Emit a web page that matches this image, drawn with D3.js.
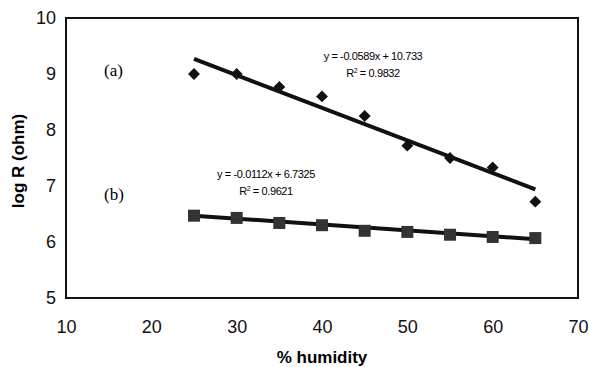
<!DOCTYPE html>
<html>
<head>
<meta charset="utf-8">
<script src="https://cdn.jsdelivr.net/npm/d3@7"></script>
<style>
  body { margin: 0; background: #fff; }
  text { font-family: Arial, "Liberation Sans", sans-serif; }
</style>
</head>
<body>
<div id="chart"></div>
<script>
var width = 589, height = 367;
var margin = {left: 66, right: 11, top: 18, bottom: 69};

// humidity (%) and log R for the two samples
var humidity = [25, 30, 35, 40, 45, 50, 55, 60, 65];
var seriesA = [9.0, 9.0, 8.77, 8.6, 8.25, 7.72, 7.5, 7.33, 6.72];
var seriesB = [6.47, 6.43, 6.34, 6.3, 6.2, 6.18, 6.13, 6.09, 6.07];

// trend line end points as drawn
var trendA = [[25, 9.27], [65, 6.94]];
var trendB = [[25, 6.47], [65, 6.05]];

var xTicks = [10, 20, 30, 40, 50, 60, 70];
var yTicks = [5, 6, 7, 8, 9, 10];

var svg = d3.select("#chart").append("svg")
	.attr("width", width)
	.attr("height", height);

var x = d3.scaleLinear().domain([10, 70]).range([margin.left, width - margin.right]);
var y = d3.scaleLinear().domain([5, 10]).range([height - margin.bottom, margin.top]);

// frame
svg.append("rect")
	.attr("x", x(10)).attr("y", y(10))
	.attr("width", x(70) - x(10)).attr("height", y(5) - y(10))
	.attr("fill", "none").attr("stroke", "#111").attr("stroke-width", 2);

// axes, labels only
var xAxis = svg.append("g")
	.attr("transform", "translate(0," + y(5) + ")")
	.call(d3.axisBottom(x).tickValues(xTicks).tickFormat(d3.format("d")).tickSize(0).tickPadding(22));
var yAxis = svg.append("g")
	.attr("transform", "translate(" + x(10) + ",0)")
	.call(d3.axisLeft(y).tickValues(yTicks).tickFormat(d3.format("d")).tickSize(0).tickPadding(10));
[xAxis, yAxis].forEach(function(g) {
	g.select(".domain").remove();
	g.selectAll("text").attr("font-size", 18).attr("fill", "#111")
		.style("font-family", "Arial, 'Liberation Sans', sans-serif");
});

// axis titles
svg.append("text")
	.attr("x", 322).attr("y", 363)
	.attr("text-anchor", "middle")
	.attr("font-size", 17).attr("font-weight", "bold")
	.text("% humidity");
svg.append("text")
	.attr("transform", "translate(24,161) rotate(-90)")
	.attr("text-anchor", "middle")
	.attr("font-size", 17).attr("font-weight", "bold")
	.text("log R (ohm)");

var line = d3.line()
	.x(function(d) { return x(d[0]); })
	.y(function(d) { return y(d[1]); });

// trend lines
[trendA, trendB].forEach(function(t) {
	svg.append("path")
		.attr("d", line(t))
		.attr("fill", "none")
		.attr("stroke", "#111")
		.attr("stroke-width", 4);
});

// (a) diamonds
svg.selectAll(".ptA")
	.data(humidity).enter()
	.append("path")
	.attr("class", "ptA")
	.attr("d", d3.symbol().type(d3.symbolDiamond2).size(90))
	.attr("transform", function(d, i) { return "translate(" + x(d) + "," + y(seriesA[i]) + ")"; })
	.attr("fill", "#111");

// (b) squares
svg.selectAll(".ptB")
	.data(humidity).enter()
	.append("rect")
	.attr("class", "ptB")
	.attr("x", function(d) { return x(d) - 6; })
	.attr("y", function(d, i) { return y(seriesB[i]) - 6; })
	.attr("width", 12).attr("height", 12)
	.attr("fill", "#333");

// labels
svg.append("text").attr("x", 104).attr("y", 76)
	.attr("font-size", 17).style("font-family", "'Liberation Serif', 'Times New Roman', serif")
	.text("(a)");
svg.append("text").attr("x", 104).attr("y", 200)
	.attr("font-size", 17).style("font-family", "'Liberation Serif', 'Times New Roman', serif")
	.text("(b)");

// regression equations
function equation(cx, cy, eq, r2) {
	svg.append("text").attr("x", cx).attr("y", cy)
		.attr("text-anchor", "middle").attr("font-size", 11).attr("letter-spacing", -0.4)
		.text(eq);
	var t = svg.append("text").attr("x", cx).attr("y", cy + 17)
		.attr("text-anchor", "middle").attr("font-size", 11).attr("letter-spacing", -0.4);
	t.append("tspan").text("R");
	t.append("tspan").attr("dy", -4).attr("font-size", 7).text("2");
	t.append("tspan").attr("dy", 4).text(" = " + r2);
}
equation(373, 60, "y = -0.0589x + 10.733", "0.9832");
equation(266, 178, "y = -0.0112x + 6.7325", "0.9621");
</script>
</body>
</html>
